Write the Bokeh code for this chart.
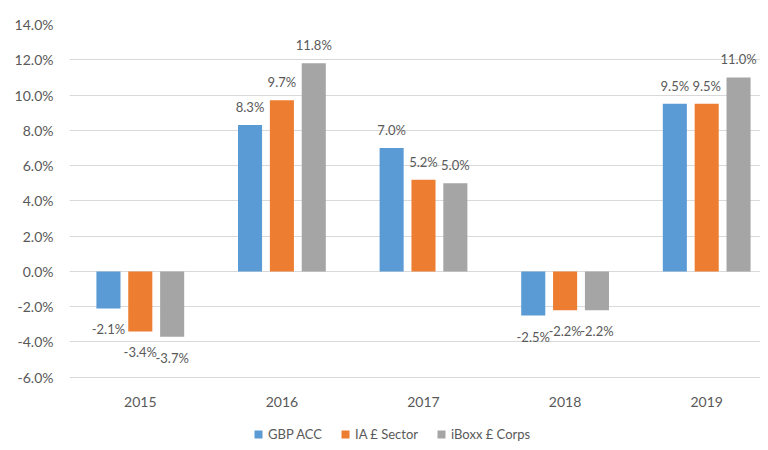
from bokeh.plotting import figure
from bokeh.models import ColumnDataSource, Range1d, FixedTicker, Legend, LegendItem, LinearAxis
from bokeh.core.properties import value
from bokeh.embed import file_html
from bokeh.resources import INLINE

years = ["2015", "2016", "2017", "2018", "2019"]
gbp_acc = [-2.1, 8.3, 7.0, -2.5, 9.5]
ia_sector = [-3.4, 9.7, 5.2, -2.2, 9.5]
iboxx = [-3.7, 11.8, 5.0, -2.2, 11.0]
series_names = ["GBP ACC", "IA £ Sector", "iBoxx £ Corps"]
colors = ["#5B9BD5", "#ED7D31", "#A5A5A5"]
y_ticks = [-6, -4, -2, 0, 2, 4, 6, 8, 10, 12, 14]

FONT = "Lato"
TXT = "#595959"

# the frame runs down to the figure's bottom edge so the legend can sit inside it
p = figure(width=760, height=442, output_backend="svg", toolbar_location=None,
           x_range=Range1d(0, 4.88), y_range=Range1d(-9.70, 14),
           x_axis_location=None,
           min_border_left=69, min_border_right=0, min_border_top=24, min_border_bottom=0)
p.outline_line_color = None
p.background_fill_color = "white"
p.border_fill_color = "white"

xaxis = LinearAxis(fixed_location=y_ticks[0])
p.add_layout(xaxis, "below")

p.xgrid.grid_line_color = None
p.ygrid.grid_line_color = "#D9D9D9"
p.ygrid.grid_line_width = 1

p.yaxis.ticker = FixedTicker(ticks=y_ticks)
p.yaxis.major_label_overrides = {t: f"{t:.1f}%" for t in y_ticks}
xaxis.ticker = FixedTicker(ticks=[i + 0.5 for i in range(len(years))])
xaxis.major_label_overrides = {i + 0.5: y for i, y in enumerate(years)}
for ax in (xaxis, p.yaxis[0]):
    ax.axis_line_color = None
    ax.major_tick_line_color = None
    ax.minor_tick_line_color = None
    ax.major_tick_out = 0
    ax.major_tick_in = 0
    ax.major_label_text_font = FONT
    ax.major_label_text_font_size = "14px"
    ax.major_label_text_color = TXT
p.yaxis.major_label_standoff = 16
xaxis.major_label_standoff = 20

offsets = [-0.225, 0.0, 0.225]
bar_w = 0.17
items = []
for name, vals, col, off in zip(series_names, [gbp_acc, ia_sector, iboxx], colors, offsets):
    src = ColumnDataSource(dict(
        x=[i + 0.5 + off for i in range(len(years))],
        top=vals,
        label=[f"{v:.1f}%" for v in vals],
        yoff=[-18 if v >= 0 else 21 for v in vals],
    ))
    r = p.vbar(x="x", top="top", bottom=0, width=bar_w, source=src,
               fill_color=col, line_color=None)
    p.text(x="x", y="top", text="label", y_offset="yoff", source=src,
           text_align="center", text_baseline="middle",
           text_font=value(FONT), text_font_size="13px", text_color=TXT)
    items.append(LegendItem(label=name, renderers=[r]))

legend = Legend(items=items, orientation="horizontal", location=(184, 0),
                border_line_color=None, background_fill_alpha=0,
                padding=0, margin=0, spacing=18, label_standoff=5,
                glyph_width=10, glyph_height=10,
                label_text_font=FONT, label_text_font_size="13px",
                label_text_color=TXT, label_height=16)
p.add_layout(legend, "center")

open("out.html", "w").write(file_html(p, INLINE))
